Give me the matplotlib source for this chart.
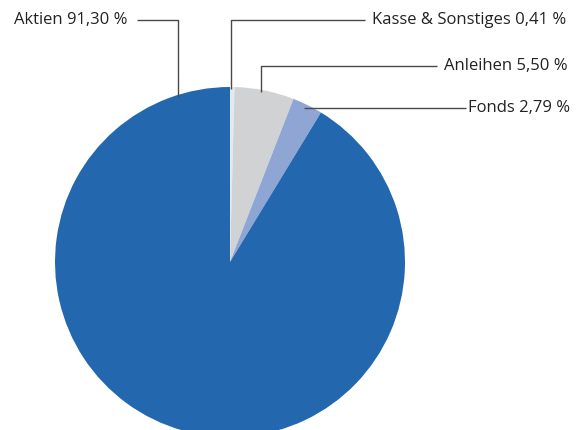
import numpy as np
import matplotlib
matplotlib.use("Agg")
import matplotlib.pyplot as plt

# data, clockwise from 12 o'clock
labels = ["Kasse & Sonstiges", "Anleihen", "Fonds", "Aktien"]
values = [0.41, 5.50, 2.79, 91.30]
colors = ["#e4e8ef", "#d1d2d4", "#8fa5d4", "#2367ae"]

# label layout in pixels (y from top): text anchor y, elbow x, text x, ha
label_y = [20, 66, 108, 20]
elbow_x = [231, 261, None, 178]
text_x = [372, 444, 468, 128]
text_ha = ["left", "left", "left", "right"]

W, H = 580, 430
fig = plt.figure(figsize=(W / 100, H / 100), dpi=100)
ax = fig.add_axes([0, 0, 1, 1])
ax.set_xlim(0, W)
ax.set_ylim(0, H)
ax.set_aspect("equal")
ax.axis("off")

cx, cy, r = 230, H - 262, 175
wedges, _ = ax.pie(values, colors=colors, startangle=90, counterclock=False,
                   center=(cx, cy), radius=r, frame=True,
                   wedgeprops=dict(linewidth=0))
ax.set_xlim(0, W)
ax.set_ylim(0, H)
ax.axis("off")

line_kw = dict(color="#4a4a4a", lw=1.0, solid_capstyle="butt")
for i, lab in enumerate(labels):
    txt = f"{lab} {values[i]:.2f} %".replace(".", ",")
    ty = H - label_y[i]
    ex = elbow_x[i]
    if ex is None:
        # straight horizontal leader from wedge edge
        w = wedges[i]
        ang = np.deg2rad((w.theta1 + w.theta2) / 2)
        ey = ty
        sx = cx + np.sqrt(max(r ** 2 - (ey - cy) ** 2, 0))
        sx = min(sx, cx + r * np.cos(ang)) - 4
        ax.plot([sx, text_x[i] - 2], [ey, ey], **line_kw)
    else:
        edge_y = cy + np.sqrt(r ** 2 - (ex - cx) ** 2) - 2
        if text_ha[i] == "left":
            ax.plot([ex, ex, text_x[i] - 7], [edge_y, ty, ty], **line_kw)
        else:
            ax.plot([ex, ex, text_x[i] + 9], [edge_y, ty, ty], **line_kw)
    ax.text(text_x[i], ty, txt, ha=text_ha[i], va="center", fontsize=12,
            family=["Open Sans", "DejaVu Sans"], color="#222222")

fig.savefig("out.png", dpi=100)
